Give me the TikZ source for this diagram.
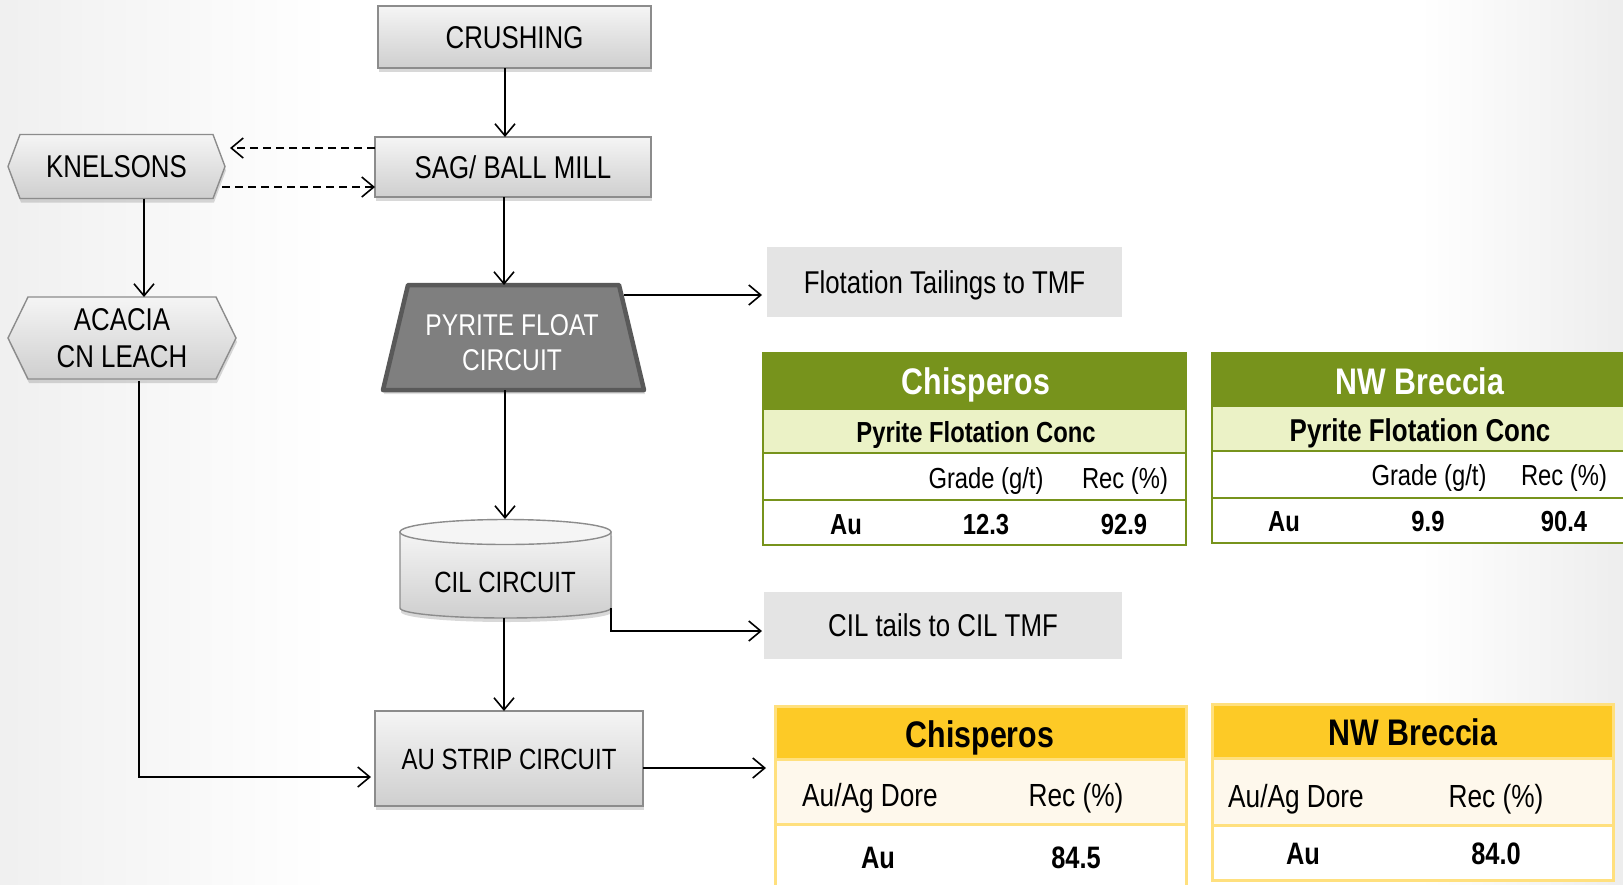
\documentclass[tikz,border=0pt]{standalone}
\usepackage{fontspec}
\setmainfont{Liberation Sans}[FakeStretch=0.82]
\usetikzlibrary{arrows.meta,shadows,calc}
\pgfdeclarelayer{back}
\pgfdeclarelayer{bg}
\pgfsetlayers{back,bg,main}
\definecolor{tgreen}{HTML}{77931C}
\definecolor{tlgreen}{HTML}{EBF2C6}
\definecolor{tyellow}{HTML}{FDCA26}
\definecolor{tyline}{HTML}{FFE07E}
\definecolor{tcream}{HTML}{FEF8EC}
\definecolor{boxline}{HTML}{8C8C8C}
\definecolor{tailfill}{HTML}{E4E4E4}
\definecolor{pyfill}{HTML}{7F7F7F}
\definecolor{pyline}{HTML}{595959}
\tikzset{
  every node/.style={inner sep=0pt, outer sep=0pt},
  bx/.style={font=\fontsize{31.5}{37}\selectfont, text height=22.6pt, text depth=0pt},
  bxs/.style={font=\fontsize{29.3}{35}\selectfont, text height=21pt, text depth=0pt},
  arr/.style={draw=black, line width=1.6pt, -{Straight Barb[length=12pt,width=20pt,line width=1.6pt]}},
  darr/.style={arr, dash pattern=on 8pt off 5pt},
  gbox/.style={draw=boxline, line width=1.4pt, top color=black!4, bottom color=black!19,
    drop shadow={shadow xshift=1pt,shadow yshift=-4pt,opacity=.3}, align=center},
  gshape/.style={draw=boxline, line width=1.4pt, top color=black!4, bottom color=black!19,
    drop shadow={shadow xshift=1pt,shadow yshift=-4pt,opacity=.3}},
  tail/.style={fill=tailfill, bx},
  gcell/.style={draw=tgreen, line width=2pt},
  ycell/.style={draw=tyline, line width=3pt},
  hdw/.style={font=\bfseries\fontsize{37}{40}\selectfont, text height=26.5pt, text depth=0pt, text=white},
  hdk/.style={font=\bfseries\fontsize{37}{40}\selectfont, text height=26.5pt, text depth=0pt, text=black},
  subb/.style={font=\bfseries\fontsize{29}{32}\selectfont, text height=20.8pt, text depth=0pt},
  subbl/.style={font=\bfseries\fontsize{31.6}{34}\selectfont, text height=22.6pt, text depth=0pt},
  cellr/.style={font=\fontsize{29}{32}\selectfont, text height=20.8pt, text depth=0pt},
  cellb/.style={font=\bfseries\fontsize{29}{32}\selectfont, text height=20.8pt, text depth=0pt},
  ycellr/.style={font=\fontsize{32}{36}\selectfont, text height=22.9pt, text depth=0pt},
  ycellb/.style={font=\bfseries\fontsize{31}{36}\selectfont, text height=22.2pt, text depth=0pt},
}
\begin{document}
\begin{tikzpicture}[x=1pt,y=-1pt]
\useasboundingbox (0,0) rectangle (1623,884);
\begin{pgfonlayer}{back}
  \fill[white] (0,0) rectangle (1623,884);
  \shade[left color=black!6, right color=white] (0,0) rectangle (330,884);
  \shade[left color=white, right color=black!7] (1420,0) rectangle (1623,884);
\end{pgfonlayer}

% process boxes
\node[gbox, bx, minimum width=273pt, minimum height=62pt] (crush) at (514.5,37) {CRUSHING};
\node[gbox, bx, minimum width=276pt, minimum height=60pt] (sag) at (513,167) {SAG/ BALL MILL};
\node[bx, minimum width=217pt, minimum height=64pt] (kn) at (116.5,166.5) {KNELSONS};
\node[font=\fontsize{31.5}{37}\selectfont, align=center, minimum width=228pt, minimum height=82pt] (aca) at (122,338) {ACACIA\\CN LEACH};
\node[minimum width=261pt, minimum height=105pt] (pyr) at (513.5,337.5) {};
\node[font=\fontsize{30}{35}\selectfont, align=center, text=white] (pyrtxt) at (512,343) {PYRITE FLOAT\\CIRCUIT};
\node[minimum width=211pt, minimum height=99pt] (cil) at (505.5,568.5) {};
\node[bxs] (ciltxt) at (505,581.5) {CIL CIRCUIT};
\node[gbox, bxs, minimum width=268pt, minimum height=95pt] (au) at (509,758.5) {AU STRIP CIRCUIT};
\node[tail, minimum width=355pt, minimum height=70pt] (ftt) at (944.5,282) {Flotation Tailings to TMF};
\node[tail, minimum width=358pt, minimum height=67pt] (cilt) at (943,625.5) {CIL tails to CIL TMF};

\begin{pgfonlayer}{bg}
  % hexagons
  \path[gshape] (kn.west) -- ([xshift=12pt]kn.north west) -- ([xshift=-12pt]kn.north east) -- (kn.east)
     -- ([xshift=-12pt]kn.south east) -- ([xshift=12pt]kn.south west) -- cycle;
  \path[gshape] (aca.west) -- ([xshift=20pt]aca.north west) -- ([xshift=-20pt]aca.north east) -- (aca.east)
     -- ([xshift=-20pt]aca.south east) -- ([xshift=20pt]aca.south west) -- cycle;
  % trapezoid
  \path[fill=pyfill, draw=pyline, line width=4.5pt, line join=round,
        drop shadow={shadow xshift=1pt,shadow yshift=-4pt,opacity=.25}]
     ([xshift=25pt]pyr.north west) -- ([xshift=-25pt]pyr.north east) -- (pyr.south east) -- (pyr.south west) -- cycle;
  % cylinder
  \path[gshape] ([yshift=-13pt]cil.north west) -- ([yshift=10pt]cil.south west)
     arc[start angle=180, end angle=360, x radius=105.5pt, y radius=10pt]
     -- ([yshift=-13pt]cil.north east) -- cycle;
  \path[draw=boxline, line width=1.4pt, fill=black!4] ([yshift=-13pt]cil.north) ellipse [x radius=105.5pt, y radius=12.5pt];
\end{pgfonlayer}

% green table 1
\node[gcell, fill=tgreen, minimum width=423pt, minimum height=56pt] (g1h) at (974.5,381) {};
\node[gcell, fill=tlgreen, minimum width=423pt, minimum height=44pt] (g1s) at (974.5,431) {};
\node[gcell, fill=white, minimum width=423pt, minimum height=47pt] (g1a) at (974.5,476.5) {};
\node[gcell, fill=white, minimum width=423pt, minimum height=45pt] (g1b) at (974.5,522.5) {};
\node[hdw] at (976,381) {Chisperos};
\node[subb] at (976,432) {Pyrite Flotation Conc};
\node[cellr] at (986,478) {Grade (g/t)};
\node[cellr] at (1125,478) {Rec (\%)};
\node[cellb] at (846,524) {Au};
\node[cellb] at (986,524) {12.3};
\node[cellb] at (1124,524) {92.9};

% green table 2
\node[gcell, fill=tgreen, minimum width=438pt, minimum height=53pt] (g2h) at (1431,379.5) {};
\node[gcell, fill=tlgreen, minimum width=438pt, minimum height=45pt] (g2s) at (1431,428.5) {};
\node[gcell, fill=white, minimum width=438pt, minimum height=47pt] (g2a) at (1431,474.5) {};
\node[gcell, fill=white, minimum width=438pt, minimum height=45pt] (g2b) at (1431,520.5) {};
\node[hdw] at (1420,381) {NW Breccia};
\node[subbl] at (1420,430) {Pyrite Flotation Conc};
\node[cellr] at (1429,475) {Grade (g/t)};
\node[cellr] at (1564,475) {Rec (\%)};
\node[cellb] at (1284,521) {Au};
\node[cellb] at (1428,521) {9.9};
\node[cellb] at (1564,521) {90.4};

% yellow table 1
\node[ycell, fill=white, minimum width=411pt, minimum height=76pt] (y1r) at (980.5,862) {};
\node[ycell, fill=tcream, minimum width=411pt, minimum height=65pt] (y1s) at (980.5,791.5) {};
\node[ycell, fill=tyellow, minimum width=411pt, minimum height=53pt] (y1h) at (980.5,732.5) {};
\node[hdk] at (980,734) {Chisperos};
\node[ycellr] at (870,795) {Au/Ag Dore};
\node[ycellr] at (1076,795) {Rec (\%)};
\node[ycellb] at (878,857) {Au};
\node[ycellb] at (1076,857) {84.5};

% yellow table 2
\node[ycell, fill=white, minimum width=401pt, minimum height=55pt] (y2r) at (1412.5,852.5) {};
\node[ycell, fill=tcream, minimum width=401pt, minimum height=67pt] (y2s) at (1412.5,791.5) {};
\node[ycell, fill=tyellow, minimum width=401pt, minimum height=54pt] (y2h) at (1412.5,731) {};
\node[hdk] at (1413,732) {NW Breccia};
\node[ycellr] at (1296,796) {Au/Ag Dore};
\node[ycellr] at (1496,796) {Rec (\%)};
\node[ycellb] at (1303,853) {Au};
\node[ycellb] at (1496,853) {84.0};

% connectors
\coordinate (xa) at (505,0);
\coordinate (xs) at (504,0);
\coordinate (xk) at (144,0);
\coordinate (xc) at (139,0);
\coordinate (ya) at (0,148);
\coordinate (yb) at (0,187);
\coordinate (pyrout) at (624,295);
\draw[arr] (crush.south -| xa) -- (sag.north -| xa);
\draw[darr, shorten >=5pt] (sag.west |- ya) -- (kn.east |- ya);
\draw[darr] ([xshift=-3pt]kn.east |- yb) -- (sag.west |- yb);
\draw[arr] (kn.south -| xk) -- (aca.north -| xk);
\draw[arr] (sag.south -| xs) -- (pyr.north -| xs);
\draw[arr, shorten >=5pt] (pyrout) -- (pyrout -| ftt.west);
\draw[arr] (pyr.south -| xa) -- (cil.north -| xa);
\draw[arr, shorten >=2pt] ([yshift=10pt]cil.south east) |- ([yshift=-5.5pt]cilt.west);
\draw[arr] (cil.south -| xs) -- (au.north -| xs);
\draw[arr, shorten >=4pt] ([yshift=-2pt]aca.south -| xc) |- ([yshift=-18.5pt]au.west);
\draw[arr, shorten >=9pt] ([yshift=-9.5pt]au.east) -- ([yshift=-9.5pt]au.east -| y1s.west);
\end{tikzpicture}
\end{document}
